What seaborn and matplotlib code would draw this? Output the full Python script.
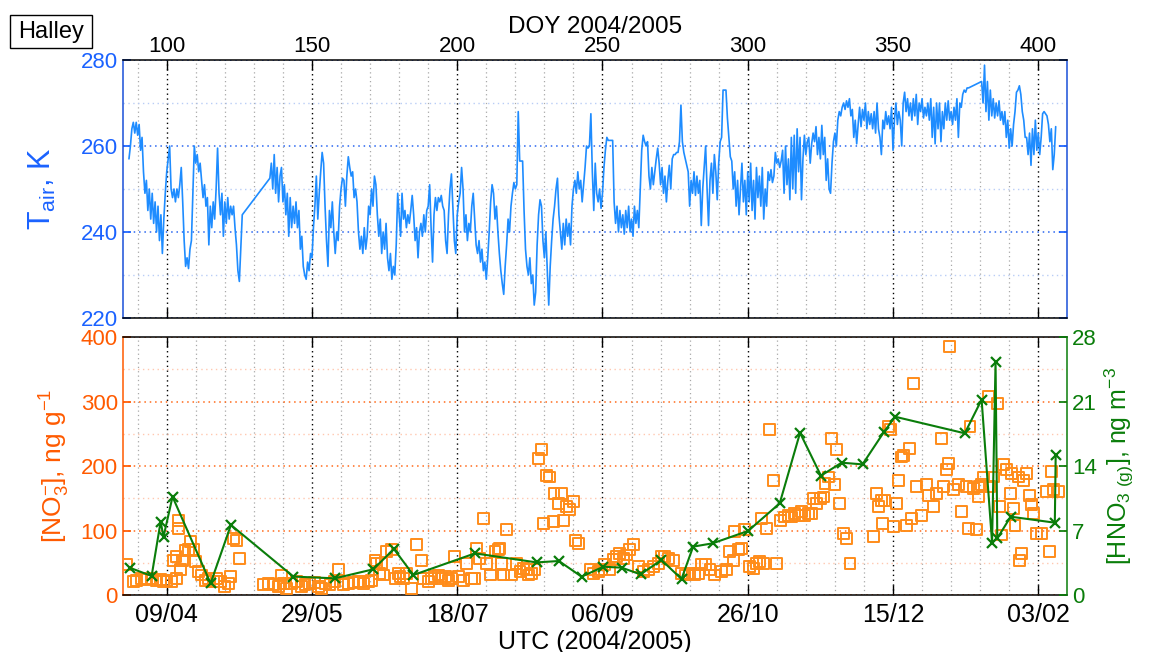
import numpy as np
import pandas as pd
import matplotlib
matplotlib.use("Agg")
import matplotlib.pyplot as plt
import seaborn as sns
from matplotlib.ticker import MultipleLocator, FixedLocator, FixedFormatter
from matplotlib.patches import Rectangle

# ---------------------------------------------------------------- data
# Near-surface air temperature (K), half-day samples, three logging periods
tair_a_start = 87.0
tair_a = [
    257, 260, 264, 265.5, 263, 265.5, 262.5, 265, 259, 262,
    254, 249, 252, 245, 250, 243, 249, 242, 247, 240,
    246, 238, 244, 235, 243, 249, 254, 257, 260, 250,
    248, 250, 247, 250, 248, 251, 255, 247, 238, 232,
    234, 231.5, 236, 238, 249, 260, 256, 258, 254, 256,
    252, 248, 251, 246, 248, 237, 246, 241, 247, 243,
    250, 259.5, 249, 244, 249, 239, 247, 242, 248, 243,
    246, 244, 246, 241, 237, 231, 228.5, 236, 244,
]
tair_b_start = 135.5
tair_b = [
    252.5, 256, 250, 258, 249, 255, 247, 253, 255, 247,
    251, 244, 249, 239, 248, 241, 246, 242, 247, 241,
    245, 236, 239, 232, 230, 229, 233, 231, 235, 234,
    241, 246, 253, 243, 249, 254, 258.5, 256, 246, 238,
    232, 245, 241, 247, 240, 235, 240, 238, 246, 250,
    252.5, 252, 246, 253, 257.5, 255, 253, 254, 248, 250,
    247, 240, 236, 239, 235, 241, 236, 239, 246, 244,
    250, 246, 253, 251, 244, 239, 243, 235, 240, 236,
    242, 234, 231, 235, 229, 232, 230, 237, 249, 244,
    239, 249, 243, 245, 241, 244, 242, 245, 248.5, 244,
    238, 241, 234, 240, 242, 239, 244, 240, 245, 246,
    251, 241, 233, 244, 248, 245, 248, 247, 248.5, 246,
    245, 238, 235, 244, 250, 253.5, 246, 238, 235, 244,
    247, 249, 255, 250, 240, 244, 238, 242, 240, 246,
    249, 243, 237, 235, 238, 233, 236, 231, 233, 229,
    234, 240, 247, 251, 249, 243, 246, 240, 235, 231,
    228, 225.5, 232, 237, 243, 240, 246, 249, 251.5, 250,
    251, 268, 256.5, 256.5, 256.5, 245, 236, 232, 230, 234,
    228, 230, 223, 226, 237, 244, 247.5, 246, 238, 234,
    240, 231, 223, 232, 238, 243, 246, 250, 252.5, 244,
    240, 236, 242, 237, 243, 239, 242, 237, 246, 250,
    252, 249, 254, 250, 252, 247, 251, 255, 260, 259.5,
    260, 267.5, 254, 245, 256, 249, 247, 250, 245.5, 249,
    255, 259, 262, 261.3, 261.3, 261.3, 261.3, 247, 242, 246,
    240, 245, 241, 244, 239.5, 245, 241, 246, 240, 243,
    239, 246, 242, 245, 241, 250, 259, 262.5, 261, 260,
    261, 253, 250, 255, 251, 254, 257, 259.5, 256, 251,
    255, 249, 253, 247, 252, 255.5, 250, 257, 258, 258,
    258.5, 258.5, 261, 269.5, 261, 258.5, 257, 255.5, 254, 246,
    252, 249, 254, 248.5, 253, 249, 252, 241.5, 250, 255,
    260, 250, 241.5, 252, 256, 249, 258, 254, 247.5, 256,
    261, 262, 273, 273, 273, 266.5, 262, 257.5, 256.5, 250,
    254, 246, 252, 244, 250, 256, 247, 252, 244, 254,
    247, 256, 245, 252, 243, 255, 248, 253, 246, 255,
    243, 250, 246, 254, 252, 254.5, 251.5, 253, 258.5, 256,
    257, 255, 256.5, 259, 249, 260, 251, 257, 247.5, 262,
    250, 262.5, 249, 264, 254, 262, 247.5, 257, 262.5, 258,
    261, 262, 256, 260.5, 263, 261, 264.5, 258, 262, 257,
    264.8, 258, 262, 252, 257, 250, 249, 256, 261, 263,
    260, 266, 268, 267, 269, 270, 268.5, 270.5, 269, 271,
    267, 268.5, 262, 266, 260.5, 265, 269, 264.5, 268.5, 266,
    270, 264, 268, 265, 267.5, 264, 268, 263, 270, 264,
    262, 258, 266, 264, 268, 265, 267, 264, 269, 259,
    266, 270, 265, 268, 266, 260, 270, 272.5, 268, 271,
    267, 270, 266, 271, 267, 272, 265, 270, 268, 271,
    266.5, 269, 267, 270, 266, 271, 262, 269, 260.5, 270,
    264, 270, 261, 268, 264, 270, 266, 270.5, 266, 268,
    265, 269, 266, 271, 262, 270, 269, 272, 273, 272.5,
    273.5, 273.5,
]
tair_c_start = 380.5
tair_c = [
    275, 270, 278.8, 268, 275, 266, 273, 267, 271, 266.5,
    270, 267, 270.5, 266, 268, 265, 268, 262, 266, 259.5,
    264, 260, 265, 268, 272.5, 273, 274, 272, 268, 266,
    262, 262, 258, 263, 255.5, 264, 258, 266, 259, 263,
    258, 262, 267.5, 268, 267.5, 267, 265, 261, 264, 254.5,
    258, 264.5,
]

# Snow nitrate concentration (ng g-1)
no3_doy = [
    86.0, 88.5, 89.7, 91.4, 93.1, 94.8, 96.6, 97.7, 98.9, 100.0,
    101.7, 102.3, 103.2, 103.4, 104.0, 104.2, 104.6, 105.5, 106.3, 107.5,
    108.3, 109.2, 109.8, 110.9, 112.0, 113.2, 114.3, 116.0, 117.1, 118.4,
    120.0, 121.2, 122.0, 122.9, 124.1, 125.0, 133.3, 135.0, 136.7, 138.4,
    139.6, 140.1, 141.3, 143.0, 144.7, 146.5, 147.6, 149.3, 151.0, 152.2,
    153.3, 154.5, 156.2, 157.9, 159.1, 160.8, 162.5, 164.2, 166.0, 167.7,
    169.4, 170.5, 171.7, 172.3, 173.4, 173.9, 174.6, 175.7, 177.4, 178.6,
    179.7, 180.3, 181.4, 182.6, 184.3, 186.0, 187.7, 188.3, 190.0, 191.2,
    192.3, 193.5, 194.6, 195.8, 196.9, 198.1, 198.9, 200.4, 202.1, 203.2,
    204.9, 206.1, 206.7, 207.8, 209.0, 210.1, 211.3, 213.0, 214.1, 214.7,
    215.3, 215.8, 217.0, 218.7, 220.4, 221.6, 222.7, 223.9, 224.4, 225.6,
    226.7, 227.9, 229.0, 229.6, 230.8, 231.7, 233.0, 233.3, 234.8, 235.9,
    236.5, 237.6, 238.8, 239.9, 240.8, 241.6, 245.7, 246.8, 248.5, 249.7,
    250.8, 252.5, 253.7, 254.8, 256.0, 257.1, 258.3, 259.4, 260.6, 262.3,
    264.0, 265.7, 267.5, 269.2, 270.3, 271.5, 272.6, 274.3, 277.2, 278.4,
    280.1, 281.8, 283.0, 284.1, 285.3, 287.0, 288.7, 291.0, 292.7, 293.8,
    295.0, 295.6, 296.7, 297.9, 299.0, 300.7, 301.9, 303.0, 304.2, 304.8,
    305.3, 306.5, 307.6, 308.8, 309.9, 311.2, 312.8, 314.0, 315.1, 316.2,
    317.4, 318.5, 319.7, 320.8, 322.0, 322.6, 323.7, 324.9, 326.0, 326.6,
    327.7, 328.9, 330.0, 330.6, 331.7, 332.9, 334.0, 335.2, 343.2, 344.3,
    344.9, 346.1, 346.3, 347.2, 348.4, 349.0, 350.1, 351.2, 351.8, 353.0,
    353.5, 354.7, 355.8, 356.4, 357.0, 358.1, 359.8, 361.6, 362.1, 363.8,
    365.0, 366.7, 367.3, 368.4, 369.0, 369.6, 370.7, 372.4, 373.6, 375.3,
    375.9, 376.5, 377.6, 378.8, 379.3, 379.9, 380.5, 381.1, 382.8, 383.3,
    384.5, 385.9, 386.8, 387.4, 387.9, 389.1, 390.6, 390.8, 391.4, 392.0,
    393.1, 393.7, 394.2, 394.8, 396.0, 397.1, 397.7, 398.3, 399.4, 401.1,
    402.9, 404.0, 404.6, 405.1, 406.9,
]
no3_val = [
    47, 21, 23, 26, 24, 26, 22, 24, 21, 23,
    21, 54, 59, 26, 116, 103, 39, 54, 69, 70,
    83, 70, 52, 36, 31, 23, 26, 21, 26, 21,
    13, 18, 29, 88, 84, 57, 16, 18, 17, 13,
    31, 18, 10, 18, 21, 13, 16, 18, 19, 13,
    10, 18, 16, 21, 39, 16, 18, 19, 21, 18,
    21, 23, 54, 49, 34, 49, 31, 67, 70, 26,
    34, 28, 26, 34, 10, 78, 54, 26, 21, 26,
    28, 31, 26, 28, 23, 26, 59, 28, 23, 49,
    26, 26, 72, 57, 119, 49, 31, 67, 70, 72,
    49, 31, 101, 31, 49, 36, 41, 39, 31, 34,
    39, 212, 225, 111, 186, 183, 114, 158, 142, 158,
    116, 137, 132, 145, 84, 80, 39, 34, 36, 39,
    47, 39, 55, 59, 65, 57, 62, 70, 78, 44,
    36, 39, 44, 49, 59, 59, 57, 54, 34, 31,
    34, 31, 34, 47, 47, 39, 31, 36, 39, 67,
    54, 98, 70, 72, 101, 44, 41, 49, 52, 119,
    49, 103, 256, 178, 49, 116, 121, 124, 121, 127,
    124, 129, 124, 127, 127, 150, 142, 150, 152, 173,
    183, 243, 171, 225, 142, 96, 88, 49, 90, 158,
    137, 147, 111, 147, 261, 256, 106, 142, 178, 214,
    217, 108, 227, 119, 328, 168, 124, 171, 155, 137,
    158, 243, 168, 194, 204, 385, 163, 171, 129, 168,
    103, 261, 165, 101, 152, 168, 171, 183, 308, 168,
    183, 297, 137, 93, 202, 194, 158, 189, 134, 108,
    183, 54, 65, 178, 189, 155, 140, 127, 96, 96,
    160, 67, 191, 163, 160,
]

# Gas-phase nitric acid (ng m-3)
hno3_doy = [
    87.2, 94.8, 97.9, 98.9, 102.0, 115.1, 122.1, 143.6, 157.9, 171.1,
    178.2, 184.9, 206.1, 227.3, 235.0, 242.8, 250.3, 256.6, 263.1, 270.3,
    277.2, 281.2, 287.9, 300.1, 311.0, 318.0, 325.2, 332.3, 339.5, 346.9,
    350.7, 374.7, 380.5, 384.1, 385.3, 385.9, 390.5, 405.7, 406.0,
]
hno3_val = [
    2.97, 2.06, 7.96, 6.33, 10.67, 1.27, 7.6, 2.0, 1.81, 2.79,
    5.0, 2.17, 4.52, 3.54, 3.69, 1.99, 3.07, 2.97, 2.24, 3.8,
    1.74, 5.25, 5.61, 6.95, 9.95, 17.6, 12.95, 14.36, 14.18, 17.7,
    19.35, 17.55, 21.2, 5.68, 25.3, 6.15, 8.5, 7.85, 15.2,
]

# Axis annotations
doy_ticks = [100, 150, 200, 250, 300, 350, 400]
date_labels = ["09/04", "29/05", "18/07", "06/09", "26/10", "15/12", "03/02"]
tair_ticks = [220, 240, 260, 280]
no3_ticks = [0, 100, 200, 300, 400]
hno3_ticks = [0, 7, 14, 21, 28]

# ---------------------------------------------------------------- frames
def half_day_axis(start, values):
    return start + 0.5 * np.arange(len(values))

tair_df = pd.DataFrame({
    "doy": np.concatenate([half_day_axis(tair_a_start, tair_a),
                           half_day_axis(tair_b_start, tair_b),
                           half_day_axis(tair_c_start, tair_c)]),
    "tair": np.concatenate([tair_a, tair_b, tair_c]),
})
no3_df = pd.DataFrame({"doy": no3_doy, "no3": no3_val})
hno3_df = pd.DataFrame({"doy": hno3_doy, "hno3": hno3_val})

# ---------------------------------------------------------------- style
sns.set_theme(style="white")
plt.rcParams["font.family"] = ["Liberation Sans", "DejaVu Sans"]
plt.rcParams["mathtext.default"] = "regular"

BLUE_LINE = "#1e8cff"
BLUE_TXT = "#1a62ff"
BLUE_GRID = "#2a66f0"
BLUE_GRID_MINOR = "#b9cdf6"
ORANGE_TXT = "#ff5a00"
ORANGE_MK = "#ff8c1a"
ORANGE_GRID = "#ff6a1a"
ORANGE_GRID_MINOR = "#ffc8b0"
GREEN = "#0a7d0a"

XLIM = (85.07, 409.77)

fig = plt.figure(figsize=(11.55, 6.52), dpi=100)
ax_t = fig.add_axes([0.1068, 0.5123, 0.8167, 0.3957])
ax_b = fig.add_axes([0.1068, 0.0874, 0.8167, 0.3957])
ax_r = ax_b.twinx()


def time_grid(ax):
    ax.set_xlim(*XLIM)
    ax.xaxis.set_major_locator(FixedLocator(doy_ticks))
    ax.xaxis.set_minor_locator(MultipleLocator(10))
    ax.grid(which="major", axis="x", color="black", ls=(0, (1, 2.5)), lw=1.0)
    ax.grid(which="minor", axis="x", color="#a8a8a8", ls=(0, (1, 2.5)), lw=0.9)
    ax.tick_params(axis="x", which="minor", length=0)
    ax.set_axisbelow(True)


# ---------------------------------------------------------------- top panel
sns.lineplot(data=tair_df, x="doy", y="tair", estimator=None, sort=False,
             color=BLUE_LINE, lw=1.2, ax=ax_t)
time_grid(ax_t)
ax_t.set_ylim(220, 280)
ax_t.yaxis.set_major_locator(FixedLocator(tair_ticks))
ax_t.yaxis.set_minor_locator(FixedLocator([230, 250, 270]))
ax_t.grid(which="major", axis="y", color=BLUE_GRID, ls=(0, (1, 2.5)), lw=1.1)
ax_t.grid(which="minor", axis="y", color=BLUE_GRID_MINOR, ls=(0, (1, 2.5)), lw=1.0)
ax_t.tick_params(axis="y", which="minor", length=0)
ax_t.tick_params(axis="x", which="major", top=True, bottom=True,
                 labeltop=True, labelbottom=False, direction="in",
                 length=7, width=1, labelsize=16, pad=2, colors="black")
ax_t.tick_params(axis="y", which="major", left=True, right=True,
                 direction="in", length=6, labelsize=16, pad=4,
                 colors=BLUE_TXT)
ax_t.xaxis.set_label_position("top")
ax_t.set_xlabel("DOY 2004/2005", fontsize=17.5, labelpad=2, color="black")
ax_t.set_ylabel(r"T$_{air}$, K", fontsize=22, color=BLUE_TXT, labelpad=16)
for side in ("top", "bottom"):
    ax_t.spines[side].set_color("black")
for side in ("left", "right"):
    ax_t.spines[side].set_color("#1a4fd8")
for sp in ax_t.spines.values():
    sp.set_linewidth(1.1)

# ---------------------------------------------------------------- bottom panel
sns.scatterplot(data=no3_df, x="doy", y="no3", marker="s", s=62,
                facecolor="none", edgecolor=ORANGE_MK, linewidth=1.4,
                ax=ax_b, zorder=3)
time_grid(ax_b)
ax_b.set_ylim(0, 400)
ax_b.yaxis.set_major_locator(FixedLocator(no3_ticks))
ax_b.yaxis.set_minor_locator(FixedLocator([50, 150, 250, 350]))
ax_b.grid(which="major", axis="y", color=ORANGE_GRID, ls=(0, (1, 2.5)), lw=1.1)
ax_b.grid(which="minor", axis="y", color=ORANGE_GRID_MINOR, ls=(0, (1, 2.5)), lw=1.0)
ax_b.tick_params(axis="y", which="minor", length=0)
ax_b.xaxis.set_major_formatter(FixedFormatter(date_labels))
ax_b.tick_params(axis="x", which="major", top=True, bottom=True,
                 direction="in", length=7, width=1, labelsize=18, pad=6,
                 colors="black")
ax_b.tick_params(axis="y", which="major", left=True, direction="in",
                 length=6, labelsize=16, pad=4, colors=ORANGE_TXT)
ax_b.set_xlabel("UTC (2004/2005)", fontsize=18, labelpad=0, color="black")
ax_b.xaxis.set_label_coords(0.5, -0.135)
ax_b.set_ylabel(r"[NO$_3^{-}$], ng g$^{-1}$", fontsize=19,
                color=ORANGE_TXT, labelpad=6)

sns.lineplot(data=hno3_df, x="doy", y="hno3", estimator=None, sort=False,
             color=GREEN, lw=1.5, marker="x", markersize=7,
             markeredgewidth=1.6, markeredgecolor=GREEN, ax=ax_r)
ax_r.set_xlim(*XLIM)
ax_r.set_ylim(0, 28)
ax_r.yaxis.set_major_locator(FixedLocator(hno3_ticks))
ax_r.tick_params(axis="y", which="major", right=True, direction="in",
                 length=6, labelsize=16, pad=4, colors=GREEN)
ax_r.set_ylabel(r"[HNO$_{3\ (g)}$], ng m$^{-3}$", fontsize=18, color=GREEN,
                labelpad=4)
ax_r.grid(False)

for side in ("top", "bottom"):
    ax_b.spines[side].set_color("black")
ax_b.spines["left"].set_color(ORANGE_TXT)
ax_b.spines["right"].set_visible(False)
ax_r.spines["left"].set_visible(False)
ax_r.spines["top"].set_visible(False)
ax_r.spines["bottom"].set_visible(False)
ax_r.spines["right"].set_color(GREEN)
for sp in list(ax_b.spines.values()) + list(ax_r.spines.values()):
    sp.set_linewidth(1.1)

# ---------------------------------------------------------------- station tag
fig.patches.append(Rectangle((10 / 1155, 1 - 48 / 652), 82 / 1155, 33 / 652,
                             transform=fig.transFigure, fill=True,
                             facecolor="white", edgecolor="black", lw=1.0))
fig.text(51 / 1155, 1 - 32 / 652, "Halley", ha="center", va="center",
         fontsize=17, color="black")

fig.savefig("out.png", dpi=100)
